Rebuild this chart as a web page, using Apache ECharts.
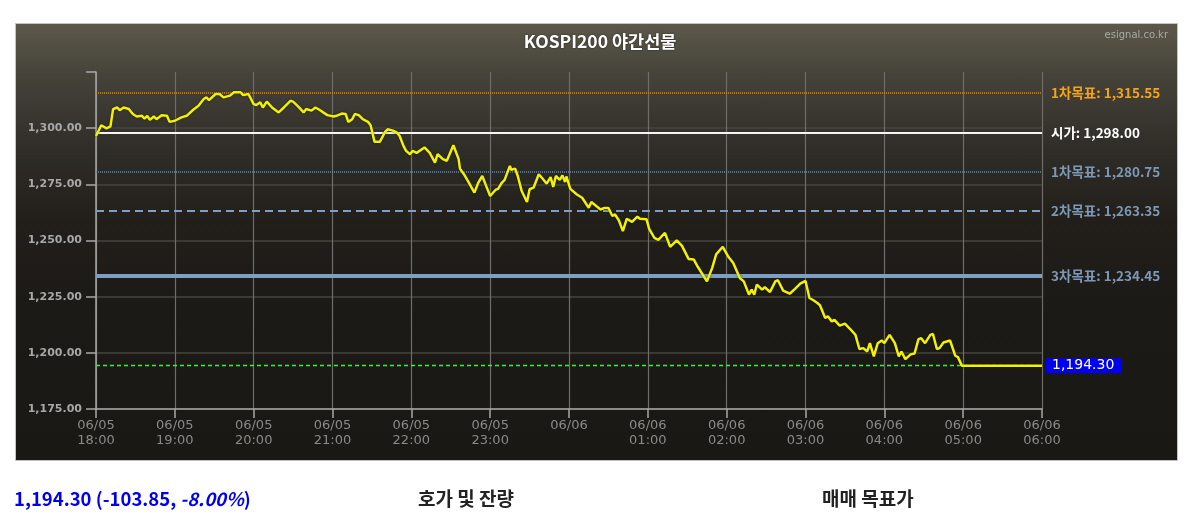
<!DOCTYPE html>
<html>
<head>
<meta charset="utf-8">
<script src="https://cdn.jsdelivr.net/npm/echarts@6/dist/echarts.min.js"></script>
<style>
  html, body { margin: 0; padding: 0; background: #fff; }
  #wrap { position: relative; width: 1200px; height: 518px; overflow: hidden; }
  #panel {
    position: absolute; left: 15px; top: 23px; width: 1161px; height: 436px;
    border: 1.5px solid #c4c4c4;
    background: linear-gradient(to bottom, #5c5849 0%, #45423a 12%, #302e28 28%, #221f1b 45%, #1c1a16 65%, #1a1814 100%);
  }
  #main { position: absolute; left: 0; top: 0; width: 1200px; height: 518px; }
  .foot { position: absolute; top: 485px; font-family: "Noto Sans CJK KR", "Noto Sans", sans-serif; font-weight: bold; font-size: 19px; line-height: 26px; }
</style>
</head>
<body>
<div id="wrap">
  <div id="panel"></div>
  <div id="main"></div>
  <div class="foot" style="left:14px;color:#0000ee;font-size:18.5px;">1,194.30 (-103.85, <i>-8.00%</i>)</div>
  <div class="foot" style="left:418px;color:#222;">호가 및 잔량</div>
  <div class="foot" style="left:822px;color:#222;">매매 목표가</div>
</div>
<script>
// x축: 18:00 기준 분, 12시간
var xLabels = ['06/05\n18:00', '06/05\n19:00', '06/05\n20:00', '06/05\n21:00', '06/05\n22:00', '06/05\n23:00',
  '06/06', '06/06\n01:00', '06/06\n02:00', '06/06\n03:00', '06/06\n04:00', '06/06\n05:00', '06/06\n06:00'];

var minutesFrom1800 = [0,4,8,11,13,16,18,21,25,28,31,35,37,39,41,44,46,50,54,56,
  60,65,69,74,78,82,84,86,91,94,97,102,105,110,112,116,120,122,125,127,
  130,134,139,143,148,150,154,158,160,164,167,170,176,181,183,187,190,192,195,197,
  200,203,207,209,212,216,220,222,226,229,231,234,236,239,241,244,250,254,258,260,
  264,267,272,276,277,280,283,288,291,294,297,300,304,306,309,311,315,316,319,321,
  324,328,330,333,337,340,343,346,348,350,353,355,357,358,361,366,370,375,377,380,
  384,387,390,393,395,398,401,404,408,412,414,419,421,425,428,433,437,442,446,451,
  455,458,465,469,472,477,481,485,490,493,497,499,501,503,507,509,513,517,519,523,
  528,532,536,540,543,546,549,551,555,557,560,562,566,570,574,578,581,584,587,589,
  592,595,598,600,604,608,611,613,616,620,623,626,628,631,635,637,640,642,645,650,
  654,656,659,720];

var prices = [1296.5,1301.3,1299.9,1300.8,1308.5,1309.2,1308.0,1309.2,1308.5,1306.3,
  1305.2,1305.5,1304.3,1305.5,1303.7,1305.2,1304.0,1305.8,1305.5,1302.8,
  1303.3,1304.8,1305.5,1308.2,1310.0,1313.0,1313.7,1312.5,1315.2,1315.2,
  1313.7,1314.5,1316.0,1316.0,1314.7,1315.2,1310.7,1310.3,1311.5,1309.2,
  1311.8,1309.2,1307.0,1309.2,1312.2,1311.8,1309.6,1307.0,1308.5,1307.8,
  1309.2,1308.2,1305.8,1305.2,1305.5,1306.5,1306.3,1302.8,1304.0,1306.3,
  1305.8,1304.0,1302.8,1301.3,1293.9,1293.9,1298.3,1299.5,1298.9,1298.0,
  1296.6,1292.1,1289.9,1288.4,1289.9,1289.0,1291.4,1289.0,1284.7,1288.4,
  1286.2,1285.5,1292.4,1286.2,1282.0,1279.5,1276.5,1271.3,1275.8,1278.7,
  1274.2,1269.8,1272.5,1273.0,1275.8,1277.0,1283.2,1281.5,1282.0,1278.7,
  1272.0,1267.1,1272.8,1273.5,1279.5,1277.5,1275.3,1278.2,1273.8,1278.7,
  1277.0,1279.0,1276.0,1278.5,1273.0,1270.5,1269.0,1264.6,1267.1,1265.7,
  1263.8,1264.5,1264.5,1260.9,1261.6,1258.9,1254.2,1259.7,1258.3,1260.6,
  1259.7,1259.5,1255.2,1251.2,1250.3,1253.4,1247.2,1250.1,1247.6,1241.8,
  1241.5,1238.3,1231.8,1237.8,1243.8,1247.2,1243.0,1240.0,1233.3,1231.8,
  1225.9,1228.1,1225.9,1230.4,1228.1,1229.2,1227.1,1231.8,1232.3,1227.7,
  1226.3,1228.5,1230.8,1232.0,1224.4,1223.4,1222.2,1221.2,1215.5,1216.3,
  1214.0,1214.7,1212.1,1213.0,1210.6,1208.0,1201.7,1202.1,1200.6,1204.3,
  1198.4,1204.3,1205.5,1204.3,1208.0,1204.3,1198.4,1200.6,1197.2,1199.3,
  1199.7,1206.1,1206.5,1204.3,1208.0,1208.4,1201.7,1202.1,1204.6,1205.5,
  1198.7,1198.1,1194.3,1194.3];

// 목표가 라인
var targetNames = ['1차목표', '시가', '1차목표', '2차목표', '3차목표'];
var targetValues = [1315.55, 1298.00, 1280.75, 1263.35, 1234.45];
var lastPrice = 1194.30;

var targetStyles = [
  { line: { color: '#d18c12', width: 1.5, type: [1, 1] }, text: '#f4a416' },
  { line: { color: '#f4f4f4', width: 2, type: 'solid' }, text: '#ffffff' },
  { line: { color: '#6d89a8', width: 1.5, type: [1, 1] }, text: '#7d98b6' },
  { line: { color: '#7fa0c6', width: 2, type: [8, 5] }, text: '#7d98b6' },
  { line: { color: '#7f9ec4', width: 4, type: 'solid' }, text: '#7d98b6' }
];

function fmt(v) {
  return v.toFixed(2).replace(/\B(?=(\d{3})+(?!\d))/, ',');
}

var lineData = [];
for (var i = 0; i < prices.length; i++) {
  lineData.push([minutesFrom1800[i], prices[i]]);
}

var markData = [];
for (var j = 0; j < targetValues.length; j++) {
  markData.push({
    yAxis: targetValues[j],
    lineStyle: targetStyles[j].line,
    label: {
      show: true, position: 'end', distance: 9,
      formatter: targetNames[j] + ': ' + fmt(targetValues[j]),
      color: targetStyles[j].text,
      fontFamily: '"Noto Sans CJK KR", sans-serif', fontWeight: 'bold', fontSize: 13.5
    }
  });
}
markData.push({
  yAxis: lastPrice,
  lineStyle: { color: '#3cf03c', width: 1.3, type: [4, 3], opacity: 1 },
  label: {
    show: true, position: 'end', distance: 3,
    formatter: fmt(lastPrice),
    color: '#ffffff', backgroundColor: '#0000f0',
    padding: [1, 7, 0, 7],
    fontFamily: 'DejaVu Sans', fontSize: 14
  }
});

var myChart = echarts.init(document.getElementById('main'));

var option = {
  backgroundColor: 'transparent',
  animation: false,
  title: {
    text: 'KOSPI200 야간선물',
    left: 'center', top: 28,
    textStyle: { color: '#ffffff', fontSize: 17.5, fontWeight: 'bold', fontFamily: '"Noto Sans CJK KR", sans-serif',
      textShadowColor: 'rgba(0,0,0,0.6)', textShadowBlur: 2 }
  },
  graphic: [{
    type: 'text', right: 32, top: 30,
    style: { text: 'esignal.co.kr', fill: '#a9a9a9', fontSize: 10, fontFamily: 'DejaVu Sans' }
  }],
  grid: { left: 96, right: 158, top: 72, bottom: 109 },
  xAxis: {
    type: 'value', min: 0, max: 720, interval: 60,
    axisLine: { show: true, lineStyle: { color: '#a8a8a8', width: 1.5 } },
    axisTick: { show: true, length: 9, lineStyle: { color: '#a8a8a8', width: 1.5 } },
    axisLabel: {
      color: '#8a8a8a', fontSize: 13, fontFamily: 'DejaVu Sans', lineHeight: 15, margin: 9,
      formatter: function (v) { return xLabels[v / 60]; }
    },
    splitLine: { show: true, lineStyle: { color: '#6e6d6a', width: 1.2 } }
  },
  yAxis: {
    type: 'value', min: 1175, max: 1325, interval: 25,
    axisLine: { show: true, lineStyle: { color: '#a8a8a8', width: 1.5 } },
    axisTick: { show: true, length: 10, lineStyle: { color: '#a8a8a8', width: 1.5 } },
    axisLabel: {
      color: '#a8a8a8', fontSize: 11, fontWeight: 'bold', fontFamily: 'DejaVu Sans', margin: 14,
      formatter: function (v) { return v === 1325 ? '' : fmt(v); }
    },
    splitLine: { show: true, lineStyle: { color: '#46443e', width: 1.5 } }
  },
  series: [{
    type: 'line',
    data: lineData,
    showSymbol: false,
    z: 5,
    lineStyle: { color: '#f2f200', width: 2.5, shadowColor: 'rgba(0,0,0,0.6)', shadowBlur: 2 },
    markLine: {
      silent: true, symbol: 'none', z: 2,
      data: markData
    }
  }]
};

myChart.setOption(option);
</script>
</body>
</html>
